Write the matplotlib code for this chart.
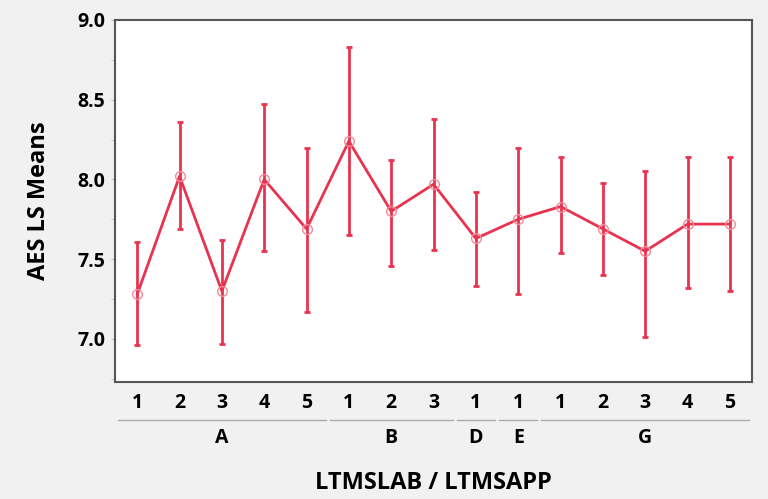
import matplotlib.pyplot as plt
import matplotlib.transforms as mtransforms
import numpy as np

# data
labs = ['A', 'A', 'A', 'A', 'A', 'B', 'B', 'B', 'D', 'E', 'G', 'G', 'G', 'G', 'G']
apps = ['1', '2', '3', '4', '5', '1', '2', '3', '1', '1', '1', '2', '3', '4', '5']
means = [7.28, 8.02, 7.30, 8.00, 7.69, 8.24, 7.80, 7.97, 7.63, 7.75, 7.83, 7.69, 7.55, 7.72, 7.72]
lower = [6.96, 7.69, 6.97, 7.55, 7.17, 7.65, 7.46, 7.56, 7.33, 7.28, 7.54, 7.40, 7.01, 7.32, 7.30]
upper = [7.61, 8.36, 7.62, 8.47, 8.20, 8.83, 8.12, 8.38, 7.92, 8.20, 8.14, 7.98, 8.05, 8.14, 8.14]

color = '#e8334f'
plt.rcParams['font.family'] = ['Open Sans', 'DejaVu Sans']

fig = plt.figure(figsize=(7.68, 4.99), dpi=100)
fig.patch.set_facecolor('#f1f1f1')
ax = fig.add_axes([0.150, 0.2345, 0.829, 0.7255])
ax.set_facecolor('white')

x = np.arange(len(means))
m = np.array(means)
yerr = [m - np.array(lower), np.array(upper) - m]

# error bars and connecting line
ax.errorbar(x, m, yerr=yerr, fmt='none', ecolor=color, elinewidth=2,
            capsize=2.5, capthick=2)
ax.plot(x, m, '-', color=color, linewidth=2)
ax.plot(x, m, 'o', markersize=7, markerfacecolor='none',
        markeredgecolor='#f08a9a', markeredgewidth=1)

ax.set_xlim(-0.52, len(means) - 0.48)
ax.set_ylim(6.73, 9.0)
ax.set_yticks([7.0, 7.5, 8.0, 8.5, 9.0])
ax.set_yticks(np.arange(6.75, 9.0, 0.25), minor=True)
ax.set_yticklabels(['7.0', '7.5', '8.0', '8.5', '9.0'], fontsize=14, fontweight='bold')
ax.tick_params(axis='y', which='both', length=3, color='#bbbbbb', pad=4)
ax.set_xticks(x)
ax.set_xticklabels(apps, fontsize=14, fontweight='bold')
ax.tick_params(axis='x', length=0, pad=8)

for s in ax.spines.values():
    s.set_color('#555555')
    s.set_linewidth(1.5)

# group lines and letters below the tick labels
trans = mtransforms.blended_transform_factory(ax.transData, ax.transAxes)
groups = []
for i, g in enumerate(labs):
    if groups and groups[-1][0] == g:
        groups[-1][2] = i
    else:
        groups.append([g, i, i])
for g, a, b in groups:
    ax.plot([a - 0.45, b + 0.45], [-0.105, -0.105], color='#aaaaaa',
            linewidth=1, transform=trans, clip_on=False)
    ax.text((a + b) / 2, -0.155, g, transform=trans, ha='center', va='center',
            fontsize=14, fontweight='bold')

ax.set_ylabel('AES LS Means', fontsize=17, fontweight='bold', labelpad=19)
ax.set_xlabel('LTMSLAB / LTMSAPP', fontsize=17, fontweight='bold', labelpad=42)

fig.savefig('out.png', dpi=100, facecolor=fig.get_facecolor())
